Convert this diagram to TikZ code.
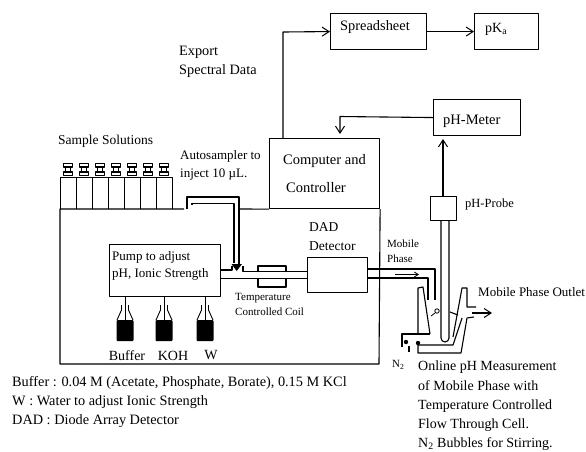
\documentclass[tikz,border=0pt]{standalone}
\usepackage{fontspec}
\setmainfont{Liberation Serif}
\usetikzlibrary{arrows.meta}
\tikzset{
 ln/.style={line width=1.1pt,line join=round},
 flow/.style={ln,-{Straight Barb[length=7pt,width=9pt,line width=1pt]}},
 boxn/.style={draw,ln,anchor=north west,inner sep=0pt,font=\fontsize{13.5}{16}\selectfont},
 txt/.style={anchor=west,inner sep=0pt,align=left,font=\fontsize{14}{19}\selectfont},
 small/.style={anchor=west,inner sep=0pt,align=left,font=\fontsize{11}{15}\selectfont},
}
\begin{document}
\begin{tikzpicture}[x=1pt,y=-1pt]
\useasboundingbox (0,0) rectangle (586,451);
% boxes
\node[boxn,minimum width=96pt,minimum height=36pt] (sheet) at (330,13) {};
\node[boxn,minimum width=64pt,minimum height=36pt] (pka) at (474,13) {};
\node[boxn,minimum width=87pt,minimum height=36pt] (meter) at (433,99) {};
\node[boxn,minimum width=110pt,minimum height=70pt] (comp) at (269,138) {};
\node[boxn,minimum width=111pt,minimum height=52pt] (pump) at (109,244) {};
\node[boxn,minimum width=60pt,minimum height=35pt] (dad) at (307,257) {};
\node[boxn,minimum width=26pt,minimum height=24pt] (probe) at (430,196) {};
% box texts
\node[txt,font=\fontsize{14.4}{19}\selectfont] at (340,27) {Spreadsheet};
\node[txt] at (485,29) {pK\textsubscript{a}};
\node[txt,font=\fontsize{14.5}{19}\selectfont] at (443,121) {pH-Meter};
\node[txt,font=\fontsize{14.5}{19}\selectfont] at (283,161) {Computer and};
\node[txt,font=\fontsize{14.5}{19}\selectfont] at (286,188) {Controller};
\node[txt,font=\fontsize{13}{17}\selectfont] at (112,266) {Pump to adjust\\pH, Ionic Strength};
% free texts
\node[txt,font=\fontsize{14.3}{19}\selectfont] at (179,62) {Export\\Spectral Data};
\node[txt,font=\fontsize{13.5}{19}\selectfont] at (58,141) {Sample Solutions};
\node[txt,font=\fontsize{13}{18}\selectfont] at (180,165) {Autosampler to\\inject 10 µL.};
\node[txt,font=\fontsize{13.5}{19}\selectfont] at (309,237) {DAD\\Detector};
\node[small] at (387,251) {Mobile\\Phase};
\node[small] at (235,304) {Temperature\\Controlled Coil};
\node[txt,font=\fontsize{12.5}{15}\selectfont] at (465,204) {pH-Probe};
\node[txt,font=\fontsize{13}{15}\selectfont] at (478,292) {Mobile Phase Outlet};
\node[txt,anchor=center] at (127,356) {Buffer};
\node[txt,anchor=center] at (173,356) {KOH};
\node[txt,anchor=center] at (211,355) {W};
\node[txt,font=\fontsize{14.3}{19.3}\selectfont] at (12,402) {Buffer : 0.04 M (Acetate, Phosphate, Borate), 0.15 M KCl\\W : Water to adjust Ionic Strength\\DAD : Diode Array Detector};
\node[txt,font=\fontsize{14}{19.2}\selectfont] at (418,406) {Online pH Measurement\\of Mobile Phase with\\Temperature Controlled\\Flow Through Cell.\\N\textsubscript{2} Bubbles for Stirring.};
\node[small] at (392,365) {N\textsubscript{2}};
% arrows
\coordinate (mc) at (283,138);
\coordinate (mr) at (283,32);
\draw[flow] (mc) -- (mr) -- (sheet.west);
\draw[flow] (sheet.east) -- (pka.west);
\coordinate (ac) at (340,116.5);
\draw[flow] (meter.west) -- (ac) -- (340,134);
\draw[flow] (443,196) -- (443,139);
% main housing
\coordinate (hA) at (184,209);
\coordinate (hB) at (240,209);
\draw[ln] (hA) -- (60,209) -- (60,364) -- (379,364) -- (comp.south east);
\draw[ln] (hB) -- (comp.south west);
% sample bottles
\foreach \i in {0,...,6}{
  \pgfmathsetmacro{\xx}{60+16*\i}
  \draw[ln,line width=.9pt] (\xx,209) -- (\xx,177) -- (\xx+16,177) -- (\xx+16,209);
  \draw[ln,line width=1.3pt] (\xx+3.5,172) rectangle (\xx+12.5,175.5);
  \draw[ln,line width=1.3pt] (\xx+3.5,163.5) rectangle (\xx+12.5,167);
  \draw[ln,line width=1pt] (\xx+5.5,167) -- (\xx+5.5,172) (\xx+10.5,167) -- (\xx+10.5,172);
}
% autosampler tube
\draw[ln] (187,209) -- (187,197) -- (239,197) -- (239,265);
\draw[ln,line width=1.5pt] (192,205) -- (192,203.5) -- (234,203.5) -- (234,263);
\fill (231.5,264) -- (242,264) -- (236.7,271) -- cycle;
% tube pump - DAD
\draw[ln] (220,270) -- (232,270) -- (232,266);
\draw[ln] (220,278.5) -- (307,278.5);
\draw[ln] (243,266) -- (243,271.5) -- (307,271.5);
% coil
\draw[ln] (258,271.5) -- (258,266) -- (286,266) -- (286,271.5);
\draw[ln] (258,278.5) -- (258,287) -- (286,287) -- (286,278.5);
% bottles under the pump
\foreach \c/\n in {125/b1,164/b2,205/b3}{
  \coordinate (\n) at (\c,305);
  \draw[ln,line width=.9pt] (pump.south -| \n) -- (\n);
  \draw[ln,line width=.9pt] (\c-3.5,305) -- (\c-3.5,310) -- (\c-8,320) (\c+3.5,305) -- (\c+3.5,310) -- (\c+8,320);
  \draw[ln,line width=.9pt] (\n) -- (\c,320);
  \fill[rounded corners=1pt] (\c-8.5,320) rectangle (\c+8.5,341);
}
% DAD outlet tube to the cell
\draw[ln] (367,269) -- (435,269) -- (435,300);
\draw[ln] (367,278) -- (428,278) -- (428,300);
\draw[ln,line width=.8pt,-{Straight Barb[length=4pt,width=5pt]}] (395,274.5) -- (419,274.5);
% pH probe
\draw[ln] (441,220) -- (441,338) arc[start angle=180,end angle=0,radius=4] -- (449,220);
% flow cell
\draw[ln] (418,333) -- (418,288) -- (423,287) -- (430,334);
\draw[ln] (402,347) -- (402,334) -- (430,334);
\draw[ln] (409,346) -- (409,352);
\draw[ln] (418,343) -- (418,353) -- (461,353) -- (467,318) -- (474,317);
\draw[ln] (418,345) -- (453,345) -- (462,318);
\draw[ln] (453,337) -- (462,288) -- (467,288) -- (467,307) -- (476,307);
\draw[ln,line width=.8pt] (431,316) -- (435,313);
\draw[ln,line width=.8pt] (437,311) circle (2.2);
\draw[ln] (450,312) -- (458,315);
\fill (406,342) circle (2.2) (418,343) circle (2.2);
\draw[flow] (472,313) -- (492,313);
\end{tikzpicture}
\end{document}
